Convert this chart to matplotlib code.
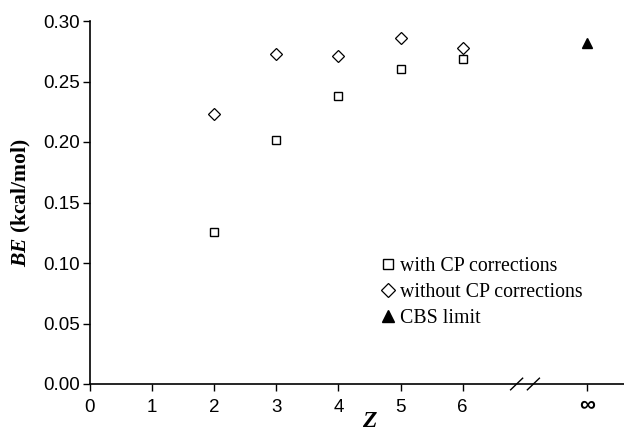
import matplotlib
matplotlib.use("Agg")
import matplotlib.pyplot as plt
import matplotlib.transforms as mtransforms
from matplotlib.lines import Line2D

z_labels = ["0", "1", "2", "3", "4", "5", "6", "∞"]
z_positions = [0, 1, 2, 3, 4, 5, 6, 8]
z_data = [2, 3, 4, 5, 6]
be_with_cp = [0.126, 0.202, 0.238, 0.260, 0.269]
be_without_cp = [0.223, 0.273, 0.271, 0.286, 0.278]
z_cbs = [8]
be_cbs = [0.282]
y_ticks = [0, 0.05, 0.10, 0.15, 0.20, 0.25, 0.30]

plt.rcParams['mathtext.fontset'] = 'custom'
plt.rcParams['mathtext.it'] = 'Liberation Serif:italic:bold'
plt.rcParams['mathtext.rm'] = 'Liberation Serif:bold'

fig = plt.figure(figsize=(6.24, 4.34), dpi=100)
ax = fig.add_axes([90/624, 50/434, 534/624, 363/434])

ax.plot(z_data, be_with_cp, linestyle='none', marker='s', ms=6, mfc='white',
        mec='black', mew=1.0)
ax.plot(z_data, be_without_cp, linestyle='none', marker='D', ms=6, mfc='white',
        mec='black', mew=0.9)
ax.plot(z_cbs, be_cbs, linestyle='none', marker='^', ms=7.5, mfc='black',
        mec='black')

ax.set_xlim(0, 534/62.1)
ax.set_ylim(0, 0.30)
ax.set_yticks(y_ticks)
ax.set_yticklabels([f"{v:.2f}" for v in y_ticks])
ax.set_xticks(z_positions)
ax.set_xticklabels(z_labels)

for s in ['top', 'right']:
    ax.spines[s].set_visible(False)
for s in ['left', 'bottom']:
    ax.spines[s].set_linewidth(1.2)

ax.tick_params(axis='both', direction='out', length=5, width=1.0,
               labelsize=13.5)
ax.tick_params(axis='x', pad=6)
ax.tick_params(axis='y', pad=2.5)
for lab in ax.get_xticklabels() + ax.get_yticklabels():
    lab.set_fontfamily('Liberation Sans')
inf_lab = ax.get_xticklabels()[-1]
inf_lab.set_fontweight('bold')
inf_lab.set_fontsize(16)
inf_lab.set_transform(inf_lab.get_transform() +
                      mtransforms.ScaledTranslation(0, 5/100, fig.dpi_scale_trans))

# axis break marks
for xb in [6.87, 7.14]:
    ax.plot([xb - 0.097, xb + 0.097], [-0.0048, 0.0048], color='black', lw=1.0,
            clip_on=False)

ax.set_ylabel(r"$BE$ (kcal/mol)", fontfamily='Liberation Serif',
              fontweight='bold', fontsize=15.5)
ax.yaxis.set_label_coords(-57/534, 0.5)
ax.set_xlabel(r"$Z$", fontsize=17)
ax.xaxis.set_label_coords(280/534, -36/363)
ax.xaxis.label.set_verticalalignment('center')

handles = [
    Line2D([], [], linestyle='none', marker='s', ms=7, mfc='white', mec='black', mew=1.0),
    Line2D([], [], linestyle='none', marker='D', ms=7.5, mfc='white', mec='black', mew=0.9),
    Line2D([], [], linestyle='none', marker='^', ms=8.5, mfc='black', mec='black'),
]
labels = ["with CP corrections", "without CP corrections", "CBS limit"]
leg = ax.legend(handles, labels, loc='upper left', bbox_to_anchor=(280/534, 0.372),
                frameon=False, handletextpad=0.1, handlelength=1.0,
                labelspacing=0.35, borderaxespad=0,
                prop={'family': 'Liberation Serif', 'size': 14.3})

fig.savefig("out.png", dpi=100)
